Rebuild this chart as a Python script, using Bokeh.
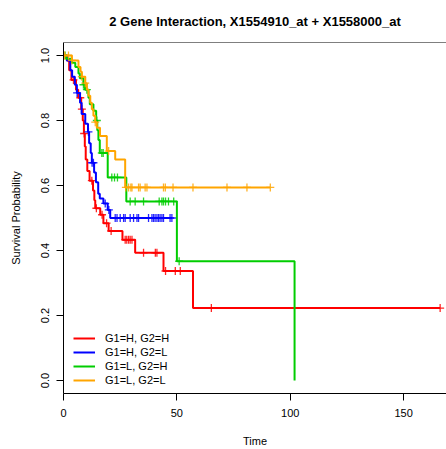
import numpy as np
from bokeh.plotting import figure
from bokeh.models import Legend, LegendItem, Span, FixedTicker, Range1d, NumeralTickFormatter
from bokeh.embed import file_html
from bokeh.resources import INLINE

title = "2 Gene Interaction, X1554910_at + X1558000_at"
groups = ["G1=H, G2=H", "G1=H, G2=L", "G1=L, G2=H", "G1=L, G2=L"]
colors = ["#FF0000", "#0000FF", "#00CD00", "#FFA500"]

# Kaplan-Meier steps (event time -> survival after the drop), end of follow-up
red_t = [1.5, 2.5, 3.5, 5.5, 6.5, 7.8, 8.5, 9.0, 9.4, 9.8, 10.5, 11.5, 13.0, 13.6, 14.0, 16.2, 17.6, 19.9, 26.0, 31.6, 44.1, 57.1]
red_s = [0.985, 0.955, 0.925, 0.895, 0.87, 0.835, 0.80, 0.76, 0.72, 0.68, 0.645, 0.615, 0.585, 0.555, 0.53, 0.51, 0.484, 0.46, 0.433, 0.393, 0.337, 0.223]
red_end = 166.1
red_c = [4.4, 7.4, 8.1, 9.1, 12.5, 14.5, 17.0, 19.0, 21.0, 27.2, 27.9, 28.7, 29.4, 30.2, 35.3, 40.5, 41.2, 45.0, 49.3, 51.5, 65.2, 166.1]

blue_t = [1.5, 3.0, 3.8, 5.0, 5.9, 7.3, 8.0, 9.6, 10.8, 11.3, 12.0, 12.5, 13.5, 14.3, 15.3, 16.0, 17.6, 19.5, 20.6]
blue_s = [0.985, 0.955, 0.935, 0.91, 0.885, 0.855, 0.82, 0.79, 0.765, 0.73, 0.70, 0.67, 0.64, 0.61, 0.575, 0.56, 0.545, 0.525, 0.50]
blue_end = 47.8
blue_c = [6.0, 11.0, 12.6, 13.2, 18.4, 20.0, 22.8, 23.6, 25.0, 26.5, 27.2, 29.4, 30.9, 32.4, 33.1, 37.5, 39.0, 39.7, 40.4, 41.2, 41.9, 42.6, 43.4, 44.1, 47.0, 47.8]

green_t = [1.2, 3.7, 5.2, 6.6, 7.2, 8.8, 9.5, 11.0, 11.6, 13.2, 14.4, 14.9, 15.4, 16.0, 19.5, 27.7, 50.0, 101.9]
green_s = [0.99, 0.978, 0.965, 0.945, 0.93, 0.91, 0.895, 0.87, 0.85, 0.83, 0.80, 0.77, 0.74, 0.70, 0.625, 0.551, 0.367, 0.0]
green_end = 101.9
green_c = [0.7, 8.8, 10.3, 14.7, 16.9, 17.5, 21.3, 22.5, 23.8, 29.4, 31.6, 35.3, 42.2, 43.4, 44.1, 45.0, 46.3, 48.6, 51.0]

orange_t = [3.7, 6.6, 7.5, 8.1, 9.6, 10.3, 11.0, 11.8, 12.5, 13.2, 14.0, 14.7, 16.1, 19.1, 22.8, 27.2]
orange_s = [0.985, 0.965, 0.95, 0.935, 0.915, 0.895, 0.876, 0.855, 0.835, 0.815, 0.795, 0.778, 0.752, 0.706, 0.68, 0.594]
orange_end = 91.2
orange_c = [0.5, 2.2, 3.7, 8.1, 9.6, 14.0, 19.9, 27.5, 28.7, 29.7, 30.2, 33.1, 33.8, 36.0, 36.8, 44.1, 44.9, 48.3, 57.1, 72.1, 80.9, 91.2]

x_ticks = [0, 50, 100, 150]
y_ticks = [0.0, 0.2, 0.4, 0.6, 0.8, 1.0]

series = [
    (red_t, red_s, red_end, red_c),
    (blue_t, blue_s, blue_end, blue_c),
    (green_t, green_s, green_end, green_c),
    (orange_t, orange_s, orange_end, orange_c),
]

FONT = "Liberation Sans"

p = figure(width=446, height=449, output_backend="svg", toolbar_location=None,
           x_range=Range1d(0, 168.9), y_range=Range1d(-0.04, 1.04),
           min_border_left=63, min_border_right=0, min_border_top=42, min_border_bottom=56)
p.outline_line_color = None
p.xgrid.visible = False
p.ygrid.visible = False
p.background_fill_color = "white"
p.border_fill_color = "white"

p.title.text = title
p.title.align = "center"
p.title.text_font = FONT
p.title.text_font_size = "13px"
p.title.text_font_style = "bold"
p.title.text_color = "black"
p.title.standoff = 24
p.title.vertical_align = "top"

for ax in (p.xaxis[0], p.yaxis[0]):
    ax.axis_line_color = "black"
    ax.major_tick_line_color = "black"
    ax.major_tick_in = 0
    ax.major_tick_out = 7
    ax.minor_tick_line_color = None
    ax.major_label_text_font = FONT
    ax.major_label_text_font_size = "11px"
    ax.major_label_text_color = "black"
    ax.axis_label_text_font = FONT
    ax.axis_label_text_font_size = "11px"
    ax.axis_label_text_font_style = "normal"
    ax.axis_label_text_color = "black"

p.xaxis.ticker = FixedTicker(ticks=x_ticks)
p.yaxis.ticker = FixedTicker(ticks=y_ticks)
p.yaxis.formatter = NumeralTickFormatter(format="0.0")
p.yaxis.major_label_orientation = "vertical"
p.xaxis.axis_label = "Time"
p.yaxis.axis_label = "Survival Probability"
p.xaxis.major_label_standoff = 8
p.xaxis.axis_label_standoff = 15
p.yaxis.major_label_standoff = 8
p.yaxis.axis_label_standoff = 16

p.add_layout(Span(location=1.04, dimension="width", line_color="black", line_width=1))

items = []
for (tt, ss, end, cc), col, name in zip(series, colors, groups):
    xs = [0.0] + list(tt) + [end]
    ys = [1.0] + list(ss) + [ss[-1]]
    r = p.step(xs, ys, mode="after", line_color=col, line_width=2)
    tarr = np.array(tt)
    sarr = np.array(ss)
    cy = []
    for c in cc:
        idx = np.where(tarr <= c)[0]
        cy.append(1.0 if len(idx) == 0 else float(sarr[idx[-1]]))
    p.scatter(cc, cy, marker="cross", size=8, line_color=col, line_width=1.3, line_alpha=0.85)
    items.append(LegendItem(label=name, renderers=[r]))

legend = Legend(items=items, location=(10, 6), border_line_color=None,
                background_fill_alpha=0, padding=10, spacing=0, margin=0,
                glyph_width=22, glyph_height=14, label_height=14, label_standoff=10,
                label_text_font=FONT, label_text_font_size="11px", label_text_color="black")
p.add_layout(legend)

open("out.html", "w").write(file_html(p, INLINE))
